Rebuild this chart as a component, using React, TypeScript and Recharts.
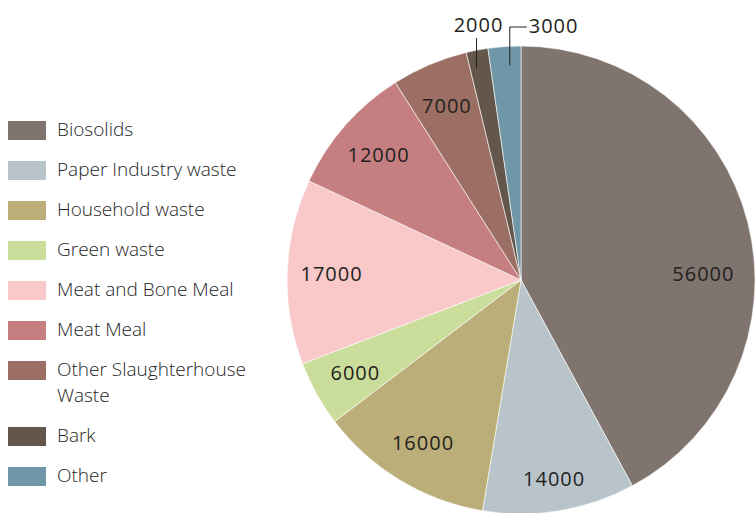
import { PieChart, Pie, Cell } from 'recharts';

// Feedstock quantities by source
const categories = [
  'Biosolids',
  'Paper Industry waste',
  'Household waste',
  'Green waste',
  'Meat and Bone Meal',
  'Meat Meal',
  'Other Slaughterhouse Waste',
  'Bark',
  'Other',
];
const values = [56000, 14000, 16000, 6000, 17000, 12000, 7000, 2000, 3000];
const colors = [
  '#80746f', // biosolids
  '#b8c4ca',
  '#bbae78',
  '#cadd9b',
  '#f9c8c8',
  '#c67f80',
  '#9b6f63',
  '#62574a',
  '#7097a8',
];

const FONT = '"Open Sans", "Noto Sans", sans-serif';
const RADIAN = Math.PI / 180;

const data = categories.map((name, i) => ({ name, value: values[i] }));

/**
 * Inside labels, small slices get a leader line above the pie
 */
function renderLabel(props: any) {
  const { cx, cy, midAngle, outerRadius, value, index } = props;
  const txt = { fontFamily: FONT, fontSize: 20, fill: '#231f20', letterSpacing: 1 };

  if (index === 7 || index === 8) {
    const x = cx + outerRadius * 0.92 * Math.cos(-midAngle * RADIAN);
    const y = cy + outerRadius * 0.92 * Math.sin(-midAngle * RADIAN);
    const topY = cy - outerRadius - (index === 7 ? 8 : 19);
    if (index === 7) {
      return (
        <g>
          <line x1={x - 4} y1={y} x2={x - 4} y2={topY} stroke="#231f20" strokeWidth={1} />
          <text x={x - 2} y={topY - 14} textAnchor="middle" dominantBaseline="central" {...txt}>
            {value}
          </text>
        </g>
      );
    }
    return (
      <g>
        <line x1={x + 4} y1={y} x2={x + 4} y2={topY} stroke="#231f20" strokeWidth={1} />
        <line x1={x + 4} y1={topY} x2={x + 21} y2={topY} stroke="#231f20" strokeWidth={1} />
        <text x={x + 23} y={topY - 2} textAnchor="start" dominantBaseline="central" {...txt}>
          {value}
        </text>
      </g>
    );
  }

  // biosolids label sits lower than its mid angle
  const angle = index === 0 ? 2 : midAngle;
  const r = outerRadius * (index === 0 ? 0.78 : index === 1 ? 0.86 : 0.81);
  const x = cx + r * Math.cos(-angle * RADIAN);
  const y = cy + r * Math.sin(-angle * RADIAN);
  return (
    <text x={x} y={y} textAnchor="middle" dominantBaseline="central" {...txt}>
      {value}
    </text>
  );
}

function LegendBox() {
  return (
    <div
      style={{
        position: 'absolute',
        left: 8,
        top: 116,
        width: 260,
        fontFamily: FONT,
        fontSize: 19,
        color: '#262626',
        fontWeight: 300,
      }}
    >
      {categories.map((name, i) => (
        <div
          key={name}
          style={{ display: 'flex', alignItems: 'flex-start', marginBottom: 14, lineHeight: '26px' }}
        >
          <div
            style={{
              width: 38,
              height: 19,
              background: colors[i],
              marginTop: 5,
              marginRight: 11,
              flexShrink: 0,
            }}
          />
          <div style={{ width: 210, whiteSpace: 'nowrap' }}>
            {i === 6 ? <>Other Slaughterhouse<br />Waste</> : name}
          </div>
        </div>
      ))}
    </div>
  );
}

export default function App() {
  return (
    <div style={{ position: 'absolute', left: 0, top: 0, width: 755, height: 513, background: '#fff' }}>
      <PieChart width={755} height={513} margin={{ top: 0, right: 0, bottom: 0, left: 0 }}>
        <Pie
          data={data}
          dataKey="value"
          nameKey="name"
          cx={521}
          cy={280}
          outerRadius={234}
          startAngle={90}
          endAngle={-270}
          stroke="#ffffff"
          strokeWidth={0.6}
          label={renderLabel}
          labelLine={false}
          isAnimationActive={false}
        >
          {data.map((d, i) => (
            <Cell key={d.name} fill={colors[i]} />
          ))}
        </Pie>
      </PieChart>
      <LegendBox />
    </div>
  );
}
